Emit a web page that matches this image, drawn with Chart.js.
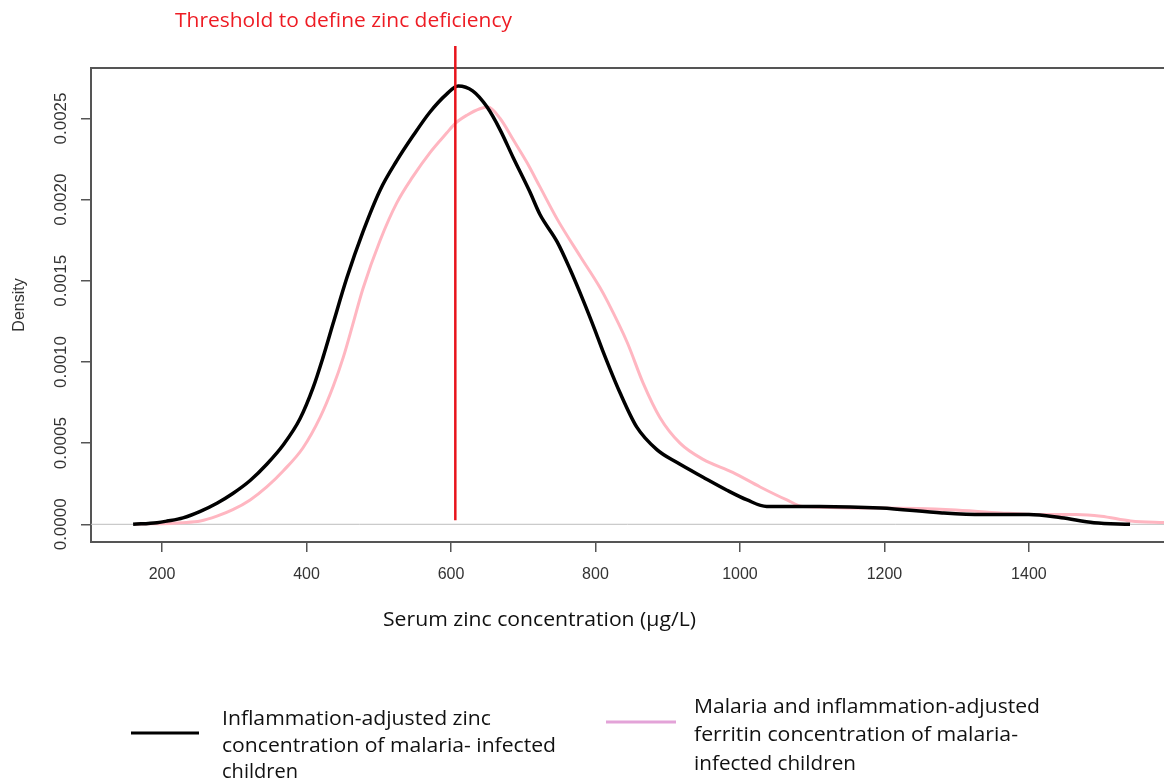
<!DOCTYPE html>
<html>
<head>
<meta charset="utf-8">
<script src="https://cdn.jsdelivr.net/npm/chart.js@4.4.0/dist/chart.umd.min.js"></script>
<style>
html, body { margin: 0; padding: 0; background: #fff; }
#wrap { width: 1164px; height: 783px; }
</style>
</head>
<body>
<div id="wrap"><canvas id="mycanvas"></canvas></div>
<script>
// density of inflammation-adjusted zinc (black)
var zincX = [160, 193, 207, 229, 253, 276, 298, 322, 345, 368, 391, 409, 423, 437, 456, 478, 502, 525, 547, 571, 594, 610, 630, 650, 668, 686, 709, 723, 747, 765, 783, 799, 810, 834, 857, 885, 913, 949, 982, 1010, 1037, 1083, 1110, 1195, 1280, 1335, 1400, 1445, 1490, 1540];
var zincY = [0, 0.00001, 0.00002, 0.00004, 0.00008, 0.00013, 0.00019, 0.00027, 0.00037, 0.00049, 0.00065, 0.00084, 0.00103, 0.00124, 0.00152, 0.0018, 0.00206, 0.00224, 0.00239, 0.00254, 0.00265, 0.0027, 0.00267, 0.00257, 0.00243, 0.00226, 0.00205, 0.00191, 0.00174, 0.00157, 0.00138, 0.0012, 0.00107, 0.00081, 0.0006, 0.00046, 0.00038, 0.00029, 0.00021, 0.00015, 0.00011, 0.00011, 0.00011, 0.0001, 0.00007, 0.00006, 0.00006, 0.00004, 0.00001, 0];

// density of malaria + inflammation-adjusted (pink)
var ferritinX = [163, 229, 253, 276, 298, 322, 345, 368, 395, 419, 437, 451, 464, 478, 502, 525, 547, 571, 594, 606, 622, 640, 651, 668, 686, 705, 723, 747, 779, 806, 817, 844, 866, 889, 917, 949, 990, 1028, 1065, 1087, 1195, 1292, 1361, 1417, 1465, 1500, 1541, 1590];
var ferritinY = [0, 0.00001, 0.00002, 0.00005, 0.00009, 0.00015, 0.00023, 0.00033, 0.00047, 0.00066, 0.00085, 0.00103, 0.00123, 0.00145, 0.00175, 0.00198, 0.00214, 0.00229, 0.00241, 0.00247, 0.00252, 0.00256, 0.00257, 0.0025, 0.00237, 0.00223, 0.00208, 0.00188, 0.00165, 0.00146, 0.00137, 0.00112, 0.00087, 0.00066, 0.0005, 0.0004, 0.00032, 0.00023, 0.00015, 0.00011, 0.0001, 0.00009, 0.00007, 0.00006, 0.00006, 0.00005, 0.00002, 0.00001];

var xTicks = [200, 400, 600, 800, 1000, 1200, 1400];
var yTicks = [0, 0.0005, 0.001, 0.0015, 0.002, 0.0025];
var threshold = 606;

var legendLeft = ["Inflammation-adjusted zinc", "concentration of malaria- infected", "children"];
var legendRight = ["Malaria and inflammation-adjusted", "ferritin concentration of malaria-", "infected children"];

function toPoints(xs, ys) {
    var pts = [];
    for (var i in xs) {
        pts.push({x: xs[i], y: ys[i]});
    }
    return pts;
}

// draw text squeezed/stretched to a given width
function fitText(ctx, text, x, y, w, size, color, family) {
    ctx.save();
    ctx.font = size + "px " + family;
    ctx.fillStyle = color;
    ctx.textBaseline = "middle";
    ctx.textAlign = "left";
    var m = ctx.measureText(text).width;
    ctx.translate(x, y);
    ctx.scale(w / m, 1);
    ctx.fillText(text, 0, 0);
    ctx.restore();
}

var extras = {
    id: "extras",
    beforeDatasetsDraw: function(chart) {
        var ctx = chart.ctx, a = chart.chartArea;
        var y0 = chart.scales.y.getPixelForValue(0);
        ctx.save();
        ctx.strokeStyle = "#bdbdbd";
        ctx.lineWidth = 1;
        ctx.beginPath();
        ctx.moveTo(a.left, y0);
        ctx.lineTo(a.right, y0);
        ctx.stroke();
        ctx.restore();
    },
    afterDatasetsDraw: function(chart) {
        var ctx = chart.ctx, a = chart.chartArea;
        var xs = chart.scales.x, ys = chart.scales.y;
        ctx.save();
        // top border of box
        ctx.strokeStyle = "#555";
        ctx.lineWidth = 2;
        ctx.beginPath();
        ctx.moveTo(a.left, a.top);
        ctx.lineTo(a.right, a.top);
        ctx.stroke();

        // threshold line
        var tx = xs.getPixelForValue(threshold);
        ctx.strokeStyle = "#e8141c";
        ctx.lineWidth = 2.5;
        ctx.beginPath();
        ctx.moveTo(tx, 46);
        ctx.lineTo(tx, ys.getPixelForValue(0.000025));
        ctx.stroke();
        ctx.restore();

        var fam = "'Open Sans', sans-serif";
        fitText(ctx, "Threshold to define zinc deficiency", 175, 21, 337, 20, "#ee1c24", fam);
        fitText(ctx, "Serum zinc concentration (\u00b5g/L)", 383, 620, 313, 20, "#111", fam);

        // legend
        ctx.save();
        ctx.lineWidth = 3;
        ctx.strokeStyle = "#000";
        ctx.beginPath();
        ctx.moveTo(131, 733);
        ctx.lineTo(199, 733);
        ctx.stroke();
        ctx.strokeStyle = "#e3a3d8";
        ctx.beginPath();
        ctx.moveTo(606, 722);
        ctx.lineTo(676, 722);
        ctx.stroke();
        ctx.restore();

        var lw = [269, 334, 76];
        var ly = [719, 746, 772];
        for (var i = 0; i < legendLeft.length; i++) {
            fitText(ctx, legendLeft[i], 222, ly[i], lw[i], 20, "#111", fam);
        }
        var rw = [346, 324, 162];
        var ry = [707, 735, 764];
        for (var j = 0; j < legendRight.length; j++) {
            fitText(ctx, legendRight[j], 694, ry[j], rw[j], 20, "#111", fam);
        }
    }
};

var chartdata = {
    datasets: [
        {
            label: "Inflammation-adjusted zinc concentration of malaria- infected children",
            data: toPoints(zincX, zincY),
            borderColor: "#000",
            borderWidth: 3.5,
            pointRadius: 0,
            cubicInterpolationMode: "monotone",
            fill: false
        },
        {
            label: "Malaria and inflammation-adjusted ferritin concentration of malaria-infected children",
            data: toPoints(ferritinX, ferritinY),
            borderColor: "#ffb6c1",
            borderWidth: 3,
            pointRadius: 0,
            cubicInterpolationMode: "monotone",
            fill: false
        }
    ]
};

var ctx = document.getElementById("mycanvas");

var DensityGraph = new Chart(ctx, {
    type: "line",
    data: chartdata,
    plugins: [extras],
    options: {
        responsive: true,
        maintainAspectRatio: false,
        animation: false,
        layout: { padding: { top: 68, right: 0, left: 0, bottom: 0 } },
        plugins: {
            legend: { display: false },
            tooltip: { enabled: false }
        },
        scales: {
            x: {
                type: "linear",
                min: 101.7,
                max: 1587,
                afterBuildTicks: function(scale) {
                    scale.ticks = xTicks.map(function(v) { return {value: v}; });
                },
                afterFit: function(scale) { scale.height = 241; },
                grid: { display: true, drawOnChartArea: false, drawTicks: true, tickLength: 10, color: "#555", lineWidth: 1.5 },
                border: { display: true, color: "#555", width: 2 },
                ticks: {
                    autoSkip: false,
                    maxRotation: 0,
                    padding: 13,
                    color: "#333",
                    font: { family: "'Liberation Sans', Arial, sans-serif", size: 16 },
                    callback: function(v) { return String(v); }
                }
            },
            y: {
                type: "linear",
                min: -0.000109,
                max: 0.002811,
                afterBuildTicks: function(scale) {
                    scale.ticks = yTicks.map(function(v) { return {value: v}; });
                },
                afterFit: function(scale) { scale.width = 91; },
                grid: { display: true, drawOnChartArea: false, drawTicks: true, tickLength: 10, color: "#555", lineWidth: 1.5 },
                border: { display: true, color: "#555", width: 2 },
                title: {
                    display: true,
                    text: "Density",
                    color: "#333",
                    font: { family: "'Liberation Sans', Arial, sans-serif", size: 16 },
                    padding: { top: 10, bottom: 0 }
                },
                ticks: {
                    minRotation: 90,
                    maxRotation: 90,
                    crossAlign: "center",
                    padding: -6,
                    color: "#333",
                    font: { family: "'Liberation Sans', Arial, sans-serif", size: 17 },
                    callback: function(v) { return v.toFixed(4); }
                }
            }
        }
    }
});
</script>
</body>
</html>
